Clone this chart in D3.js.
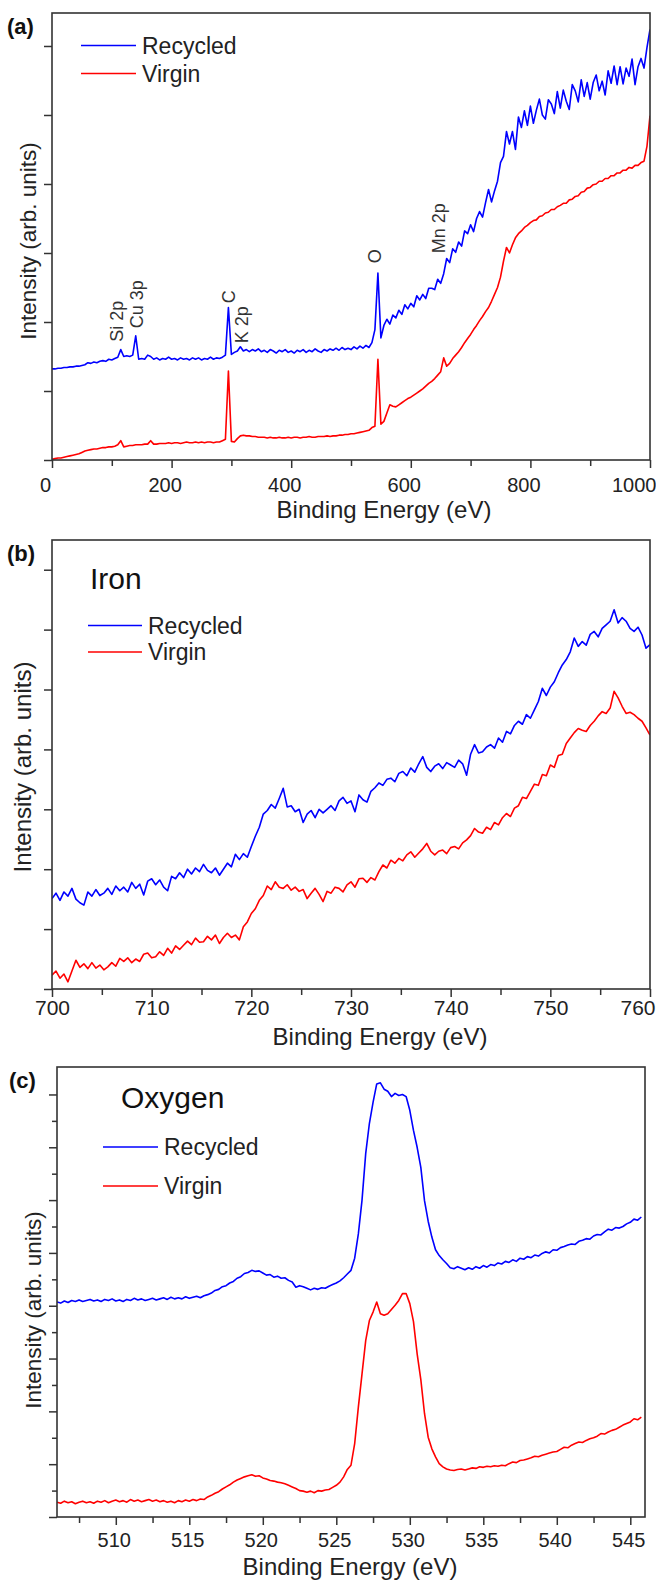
<!DOCTYPE html>
<html><head><meta charset="utf-8">
<script src="https://cdn.jsdelivr.net/npm/d3@7"></script>
<style>
body{margin:0;background:#fff;}
svg{display:block;font-family:"Liberation Sans",Arial,sans-serif;}
</style></head><body>
<svg id="chart" width="656" height="1580"></svg>
<script>
// ---------- DATA ----------
// (a) survey spectrum, 5 eV steps 0..1000
const aEnergy = d3.range(0, 1001, 5);
const aRecycled = [
1.32,1.32,1.33,1.33,1.34,1.34,1.35,1.35,1.36,1.36,
1.37,1.38,1.41,1.40,1.42,1.41,1.43,1.44,1.43,1.46,
1.45,1.47,1.49,1.60,1.50,1.51,1.50,1.52,1.80,1.46,
1.47,1.46,1.52,1.50,1.46,1.48,1.45,1.47,1.46,1.49,
1.46,1.47,1.45,1.48,1.46,1.47,1.45,1.48,1.46,1.48,
1.45,1.47,1.46,1.49,1.46,1.48,1.47,1.49,1.52,2.21,
1.53,1.56,1.58,1.64,1.58,1.60,1.57,1.60,1.58,1.61,
1.57,1.59,1.56,1.60,1.58,1.55,1.59,1.57,1.60,1.56,
1.58,1.55,1.59,1.57,1.60,1.56,1.59,1.57,1.61,1.58,
1.56,1.60,1.58,1.61,1.59,1.62,1.59,1.63,1.60,1.62,
1.60,1.64,1.61,1.65,1.62,1.66,1.63,1.70,1.89,2.71,
1.77,1.95,2.04,1.97,2.10,2.06,2.17,2.11,2.25,2.19,
2.27,2.22,2.38,2.32,2.40,2.34,2.49,2.49,2.47,2.62,
2.56,2.70,2.92,2.86,3.06,3.01,3.16,3.10,3.32,3.28,
3.41,3.31,3.50,3.60,3.52,3.73,3.92,3.74,3.90,4.04,
4.31,4.40,4.76,4.58,4.76,4.50,4.97,4.82,5.06,4.85,
5.13,4.88,5.07,5.23,5.00,4.94,5.22,5.16,5.02,5.34,
5.10,5.36,5.20,5.08,5.44,5.35,5.19,5.51,5.27,5.47,
5.23,5.47,5.58,5.35,5.49,5.29,5.64,5.46,5.71,5.44,
5.70,5.45,5.68,5.56,5.81,5.44,5.70,5.82,5.68,5.98,
6.24];
const aVirgin = [
0.01,0.02,0.03,0.03,0.04,0.05,0.06,0.07,0.08,0.09,
0.11,0.13,0.14,0.15,0.16,0.16,0.17,0.18,0.18,0.19,
0.19,0.20,0.22,0.28,0.19,0.20,0.21,0.21,0.22,0.22,
0.22,0.23,0.23,0.28,0.23,0.23,0.24,0.24,0.24,0.25,
0.24,0.25,0.25,0.24,0.25,0.26,0.25,0.25,0.26,0.25,
0.26,0.25,0.26,0.26,0.25,0.26,0.26,0.28,0.30,1.29,
0.27,0.26,0.31,0.35,0.36,0.35,0.35,0.34,0.34,0.33,
0.33,0.33,0.32,0.33,0.32,0.32,0.33,0.32,0.32,0.33,
0.32,0.33,0.33,0.32,0.33,0.33,0.34,0.33,0.33,0.34,
0.34,0.34,0.35,0.34,0.35,0.35,0.36,0.36,0.37,0.37,
0.38,0.38,0.39,0.40,0.41,0.42,0.43,0.47,0.49,1.46,
0.52,0.56,0.68,0.80,0.78,0.77,0.80,0.83,0.86,0.89,
0.91,0.94,0.97,1.00,1.03,1.07,1.11,1.14,1.18,1.23,
1.28,1.48,1.36,1.40,1.47,1.52,1.57,1.63,1.70,1.76,
1.82,1.89,1.95,2.02,2.08,2.15,2.21,2.30,2.40,2.50,
2.65,2.88,3.08,3.00,3.12,3.22,3.28,3.32,3.37,3.40,
3.44,3.47,3.48,3.53,3.54,3.58,3.59,3.63,3.63,3.67,
3.69,3.72,3.72,3.77,3.78,3.82,3.83,3.88,3.89,3.94,
3.95,3.99,4.00,4.04,4.04,4.08,4.08,4.12,4.12,4.16,
4.16,4.20,4.20,4.24,4.23,4.27,4.27,4.31,4.33,4.55,
4.99];
const aPeakLabels = ["Si 2p","Cu 3p","C","K 2p","O","Mn 2p"];
const aTicks = [0,200,400,600,800,1000];
const aMinorTicks = [100,300,500,700,900];

// (b) Iron, 0.4 eV steps 700..760
const bEnergy = d3.range(0, 151).map(i => +(700 + i * 0.4).toFixed(1));
const bRecycled = [
1.51,1.60,1.48,1.62,1.55,1.68,1.50,1.44,1.40,1.62,
1.55,1.66,1.56,1.60,1.68,1.58,1.72,1.64,1.70,1.62,
1.78,1.68,1.75,1.57,1.80,1.84,1.74,1.82,1.70,1.64,
1.88,1.84,1.94,1.86,2.00,1.92,2.02,1.96,2.08,1.98,
1.94,2.02,1.90,2.00,2.10,2.04,2.25,2.16,2.26,2.20,
2.38,2.55,2.70,2.92,2.98,3.08,3.02,3.18,3.35,3.04,
3.06,2.96,3.00,2.78,2.92,2.98,2.86,3.00,2.94,3.00,
3.06,2.98,3.14,3.20,3.10,3.14,2.96,3.24,3.16,3.12,
3.30,3.36,3.44,3.40,3.50,3.52,3.46,3.60,3.63,3.56,
3.69,3.62,3.76,3.88,3.70,3.63,3.72,3.76,3.68,3.78,
3.74,3.70,3.82,3.76,3.57,3.92,4.08,3.94,3.96,4.04,
4.08,4.02,4.19,4.12,4.30,4.26,4.40,4.47,4.42,4.58,
4.52,4.66,4.80,5.02,4.90,5.04,5.13,5.28,5.41,5.50,
5.63,5.86,5.72,5.80,5.74,5.92,5.97,5.88,6.02,6.08,
6.14,6.33,6.11,6.20,6.14,6.02,5.97,6.04,5.91,5.69,
5.75];
const bVirgin = [
0.23,0.30,0.18,0.25,0.12,0.30,0.48,0.36,0.42,0.34,
0.44,0.35,0.40,0.32,0.37,0.44,0.38,0.51,0.46,0.52,
0.44,0.50,0.46,0.58,0.60,0.52,0.54,0.62,0.56,0.68,
0.60,0.72,0.66,0.73,0.80,0.74,0.85,0.78,0.79,0.88,
0.82,0.90,0.76,0.86,0.93,0.86,0.90,0.82,1.04,1.12,
1.26,1.34,1.48,1.56,1.72,1.66,1.79,1.70,1.68,1.74,
1.65,1.70,1.63,1.66,1.51,1.60,1.68,1.58,1.46,1.63,
1.60,1.70,1.68,1.62,1.74,1.79,1.70,1.84,1.85,1.78,
1.86,1.82,1.96,2.07,2.02,2.15,2.10,2.18,2.14,2.24,
2.29,2.20,2.27,2.34,2.43,2.30,2.24,2.30,2.32,2.26,
2.36,2.38,2.34,2.44,2.49,2.56,2.68,2.62,2.60,2.70,
2.66,2.78,2.74,2.86,2.93,2.88,3.02,3.06,3.20,3.18,
3.30,3.42,3.40,3.58,3.56,3.74,3.70,3.90,3.92,4.10,
4.19,4.28,4.35,4.32,4.30,4.40,4.47,4.56,4.63,4.60,
4.69,4.97,4.86,4.72,4.60,4.62,4.58,4.52,4.47,4.36,
4.24];
const bTicks = [700,710,720,730,740,750,760];
const bMinorTicks = [705,715,725,735,745,755];

// (c) Oxygen, 0.25 eV steps 506..545.75
const cEnergy = d3.range(0, 160).map(i => 506 + i * 0.25);
const cRecycled = [
4.07,4.05,4.09,4.06,4.10,4.08,4.11,4.08,
4.10,4.12,4.09,4.11,4.08,4.12,4.10,4.13,
4.09,4.11,4.08,4.12,4.10,4.14,4.11,4.13,
4.10,4.12,4.14,4.11,4.13,4.15,4.12,4.16,
4.13,4.15,4.13,4.17,4.14,4.16,4.18,4.15,
4.19,4.21,4.24,4.29,4.31,4.36,4.38,4.43,
4.46,4.52,4.55,4.61,4.63,4.67,4.65,4.66,
4.62,4.58,4.59,4.54,4.56,4.52,4.53,4.48,
4.45,4.35,4.38,4.36,4.33,4.30,4.33,4.31,
4.34,4.33,4.37,4.40,4.43,4.47,4.53,4.60,
4.67,4.90,5.36,6.00,6.88,7.45,7.85,8.20,
8.22,8.10,8.06,7.96,8.02,7.98,8.00,7.96,
7.70,7.32,7.00,6.62,5.99,5.60,5.30,5.06,
4.95,4.87,4.80,4.72,4.70,4.74,4.71,4.68,
4.72,4.69,4.74,4.71,4.76,4.73,4.78,4.76,
4.81,4.79,4.84,4.82,4.87,4.84,4.90,4.88,
4.93,4.91,4.96,4.94,4.99,5.02,5.00,5.06,
5.05,5.10,5.12,5.15,5.17,5.16,5.22,5.24,
5.27,5.26,5.32,5.35,5.34,5.40,5.45,5.43,
5.48,5.47,5.50,5.55,5.58,5.64,5.62,5.68];
const cVirgin = [
0.28,0.26,0.30,0.27,0.29,0.25,0.28,0.30,
0.27,0.29,0.26,0.30,0.28,0.31,0.27,0.30,
0.32,0.29,0.31,0.28,0.33,0.30,0.32,0.29,
0.31,0.33,0.30,0.32,0.29,0.31,0.28,0.30,
0.27,0.31,0.29,0.32,0.30,0.33,0.31,0.34,
0.33,0.38,0.41,0.45,0.48,0.53,0.57,0.61,
0.66,0.70,0.73,0.76,0.78,0.80,0.77,0.78,
0.74,0.72,0.69,0.68,0.66,0.65,0.63,0.60,
0.57,0.54,0.50,0.49,0.47,0.49,0.46,0.50,
0.49,0.51,0.52,0.56,0.60,0.66,0.76,0.90,
0.98,1.39,2.08,2.71,3.34,3.72,3.88,4.07,
3.85,3.82,3.85,3.93,4.01,4.10,4.23,4.23,
4.04,3.70,3.09,2.60,1.96,1.51,1.29,1.14,
1.01,0.95,0.91,0.89,0.88,0.90,0.91,0.89,
0.91,0.93,0.92,0.95,0.94,0.96,0.95,0.97,
0.96,0.98,0.97,1.01,1.04,1.03,1.07,1.08,
1.10,1.12,1.15,1.14,1.17,1.19,1.21,1.23,
1.24,1.28,1.32,1.31,1.36,1.39,1.42,1.41,
1.45,1.48,1.50,1.53,1.58,1.57,1.61,1.64,
1.66,1.70,1.74,1.77,1.80,1.86,1.84,1.89];
const cTicks = [510,515,520,525,530,535,540,545];
const cMinorTicks = [507.5,512.5,517.5,522.5,527.5,532.5,537.5,542.5];

const seriesNames = ["Recycled","Virgin"];
const panelLetters = ["(a)","(b)","(c)"];
const elementNames = ["Iron","Oxygen"];
const xTitle = "Binding Energy (eV)";
const yTitle = "Intensity (arb. units)";

// ---------- DRAW ----------
const svg = d3.select("#chart");
const BLUE = "#0000ff", RED = "#ff0000", INK = "#222";

function drawPanel(p) {
  const g = svg.append("g");
  const x = d3.scaleLinear().domain(p.xDomain).range([p.left, p.right]);
  const y = d3.scaleLinear().domain([0, p.yMax]).range([p.bottom, p.top]);
  const clipId = "clip" + p.id;
  svg.append("clipPath").attr("id", clipId).append("rect")
    .attr("x", p.left).attr("y", p.top).attr("width", p.right - p.left).attr("height", p.bottom - p.top);

  const line = d3.line().x(d => x(d[0])).y(d => y(d[1]));
  [[p.virgin, RED], [p.recycled, BLUE]].forEach(([vals, col]) => {
    g.append("path").datum(p.energy.map((e, i) => [e, vals[i]]))
      .attr("clip-path", `url(#${clipId})`)
      .attr("fill", "none").attr("stroke", col).attr("stroke-width", 1.6)
      .attr("stroke-linejoin", "round").attr("d", line);
  });

  const styleAxis = sel => {
    sel.select(".domain").remove();
    sel.selectAll("line").attr("stroke", "#333").attr("stroke-width", 1.5);
  };
  g.append("g").attr("transform", `translate(0,${p.bottom})`)
    .call(d3.axisBottom(x).tickValues(p.xMinor).tickSize(6).tickFormat(""))
    .call(styleAxis);
  const xa = g.append("g").attr("transform", `translate(0,${p.bottom})`)
    .call(d3.axisBottom(x).tickValues(p.xMajor).tickSize(8).tickFormat(d3.format("d")))
    .call(styleAxis);
  xa.selectAll("text").attr("fill", INK).attr("font-size", p.tickFs)
    .attr("font-family", "'Liberation Sans', Arial, sans-serif")
    .attr("y", p.tickOff).attr("dy", 0).attr("dx", p.tickDx || 0)
    .each(function(d) {
      if (p.lastEnd && d === p.xMajor[p.xMajor.length - 1]) {
        d3.select(this).attr("text-anchor", "end").attr("dx", p.lastEnd - p.right);
      }
    });
  g.append("g").attr("transform", `translate(${p.left},0)`)
    .call(d3.axisLeft(y).tickValues(p.yMajor).tickSize(8).tickFormat(""))
    .call(styleAxis);
  if (p.yMinor) {
    g.append("g").attr("transform", `translate(${p.left},0)`)
      .call(d3.axisLeft(y).tickValues(p.yMinor).tickSize(5).tickFormat(""))
      .call(styleAxis);
  }
  g.append("rect").attr("x", p.left).attr("y", p.top)
    .attr("width", p.right - p.left).attr("height", p.bottom - p.top)
    .attr("fill", "none").attr("stroke", "#333").attr("stroke-width", 1.6);

  g.append("text").attr("x", p.xTitleX).attr("y", p.xTitleY).attr("text-anchor", "middle")
    .attr("font-size", 24).attr("fill", INK).text(xTitle);
  g.append("text").attr("transform", `translate(${p.yTitleX},${p.yTitleY}) rotate(-90)`)
    .attr("text-anchor", "middle").attr("dy", "0.35em")
    .attr("font-size", p.yTitleFs).attr("fill", INK).text(yTitle);
  g.append("text").attr("x", p.letterX).attr("y", p.letterY)
    .attr("font-size", 22).attr("font-weight", "bold").attr("fill", "#111").text(p.letter);

  if (p.element) {
    g.append("text").attr("x", p.elemX).attr("y", p.elemY).attr("font-size", 30)
      .attr("fill", "#111").text(p.element);
  }
  [[BLUE, 0], [RED, 1]].forEach(([col, i]) => {
    g.append("line").attr("x1", p.legX1).attr("x2", p.legX2)
      .attr("y1", p.legY[i]).attr("y2", p.legY[i]).attr("stroke", col).attr("stroke-width", 1.3);
    g.append("text").attr("x", p.legTextX).attr("y", p.legY[i] + 8)
      .attr("font-size", 23).attr("fill", INK).text(seriesNames[i]);
  });
  return {x, y, g};
}

const pa = drawPanel({
  id: "a", energy: aEnergy, recycled: aRecycled, virgin: aVirgin,
  xDomain: [0, 1000], left: 52, right: 650, top: 13, bottom: 460, yMax: 6.478,
  xMajor: aTicks, xMinor: aMinorTicks, yMajor: [0,1,2,3,4,5,6],
  tickFs: 20, tickOff: 32, tickDx: -7, lastEnd: 656,
  xTitleX: 384, xTitleY: 518, yTitleX: 28, yTitleY: 241, yTitleFs: 22.5,
  letter: panelLetters[0], letterX: 7, letterY: 34,
  legX1: 81, legX2: 136, legY: [45.5, 73.5], legTextX: 142
});
const peakPos = [[123, 341.7], [143, 328.3], [234.5, 303.3], [248, 343.3], [381, 263.3], [444.5, 253.3]];
aPeakLabels.forEach((t, i) => {
  pa.g.append("text").attr("transform", `translate(${peakPos[i][0]},${peakPos[i][1]}) rotate(-90)`)
    .attr("font-size", 18).attr("fill", "#333").text(t);
});

drawPanel({
  id: "b", energy: bEnergy, recycled: bRecycled, virgin: bVirgin,
  xDomain: [700, 760], left: 52, right: 650, top: 540, bottom: 989, yMax: 7.496,
  xMajor: bTicks, xMinor: bMinorTicks, yMajor: [0,1,2,3,4,5,6,7],
  tickFs: 21, tickOff: 26, tickDx: 0, lastEnd: 655,
  xTitleX: 380, xTitleY: 1045, yTitleX: 23, yTitleY: 767, yTitleFs: 24,
  letter: panelLetters[1], letterX: 7, letterY: 561,
  element: elementNames[0], elemX: 90, elemY: 589,
  legX1: 88, legX2: 142, legY: [625.5, 652], legTextX: 148
});

drawPanel({
  id: "c", energy: cEnergy, recycled: cRecycled, virgin: cVirgin,
  xDomain: [506, 546], left: 57, right: 645, top: 1067, bottom: 1517, yMax: 8.52,
  xMajor: cTicks, xMinor: cMinorTicks, yMajor: [0,1,2,3,4,5,6,7,8],
  yMinor: [0.5,1.5,2.5,3.5,4.5,5.5,6.5,7.5],
  tickFs: 20, tickOff: 30, tickDx: -2,
  xTitleX: 350, xTitleY: 1575, yTitleX: 33, yTitleY: 1310, yTitleFs: 22.5,
  letter: panelLetters[2], letterX: 9, letterY: 1088,
  element: elementNames[1], elemX: 121, elemY: 1108,
  legX1: 103, legX2: 158, legY: [1147, 1186], legTextX: 164
});
</script>
</body></html>
